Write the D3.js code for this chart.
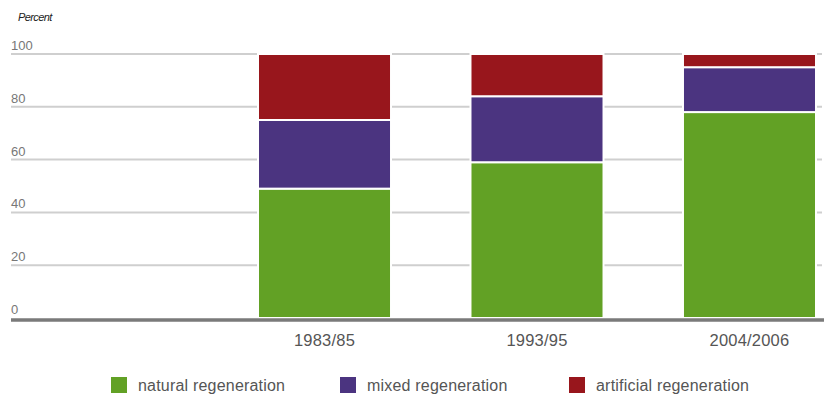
<!DOCTYPE html>
<html>
<head>
<meta charset="utf-8">
<script src="https://cdn.jsdelivr.net/npm/d3@7"></script>
<style>
	body { margin: 0; background: #fff; }
	text { font-family: "Liberation Sans", Arial, sans-serif; }
</style>
</head>
<body>
<svg class="chart"></svg>
<script>
// data
var periods = ["1983/85", "1993/95", "2004/2006"],
	natural = [49, 59, 78],
	mixed = [26, 25, 17],
	artificial = [25, 16, 5],
	seriesNames = ["natural regeneration", "mixed regeneration", "artificial regeneration"],
	seriesColors = ["#62a125", "#4b3480", "#98161c"],
	yTicks = [0, 20, 40, 60, 80, 100];

var svgWidth = 824,
	svgHeight = 396;

var chart = d3.select( ".chart" )
	.attr( "width", svgWidth )
	.attr( "height", svgHeight );

var gridLeft = 11,
	gridRight = 822;

var x = d3.scaleBand()
	.domain( periods )
	.range( [249.5, 824.5] )
	.paddingInner( 0.374 )
	.paddingOuter( 0.04 );

var y = d3.scaleLinear()
	.domain( [0, 100] )
	.range( [318, 54] );

// build stacked rows
var rows = periods.map( function(p, i) {
	return { period: p, natural: natural[i], mixed: mixed[i], artificial: artificial[i] };
} );
var stack = d3.stack().keys( ["natural", "mixed", "artificial"] )( rows );

// grid lines + labels
var grid = chart.append( "g" );
grid.selectAll( "line" )
	.data( yTicks.filter( function(d) { return d > 0; } ) )
	.enter()
	.append( "line" )
	.attr( "x1", gridLeft )
	.attr( "x2", gridRight )
	.attr( "y1", function(d) { return y(d); } )
	.attr( "y2", function(d) { return y(d); } )
	.attr( "stroke", "#cfcfcf" )
	.attr( "stroke-width", 2 );

grid.selectAll( "text" )
	.data( yTicks )
	.enter()
	.append( "text" )
	.attr( "x", gridLeft )
	.attr( "y", function(d) { return y(d) - 4; } )
	.attr( "font-size", 13 )
	.attr( "fill", "#777" )
	.text( function(d) { return d; } );

chart.append( "text" )
	.attr( "x", 18 )
	.attr( "y", 21 )
	.attr( "font-size", 11 )
	.attr( "font-style", "italic" )
	.attr( "fill", "#222" )
	.attr( "letter-spacing", -0.6 )
	.text( "Percent" );

// bars
chart.selectAll( ".layer" )
	.data( stack )
	.enter()
	.append( "g" )
	.classed( "layer", true )
	.attr( "fill", function(d, i) { return seriesColors[i]; } )
	.selectAll( "rect" )
	.data( function(d) { return d; } )
	.enter()
	.append( "rect" )
	.attr( "x", function(d) { return x( d.data.period ); } )
	.attr( "y", function(d) { return y( d[1] ); } )
	.attr( "width", x.bandwidth() )
	.attr( "height", function(d) { return y( d[0] ) - y( d[1] ); } )
	.attr( "stroke", "#fff" )
	.attr( "stroke-width", 2 );

// baseline
chart.append( "line" )
	.attr( "x1", gridLeft )
	.attr( "x2", svgWidth )
	.attr( "y1", y(0) + 2 )
	.attr( "y2", y(0) + 2 )
	.attr( "stroke", "#7a7a7a" )
	.attr( "stroke-width", 3.5 );

// x labels
chart.append( "g" )
	.selectAll( "text" )
	.data( periods )
	.enter()
	.append( "text" )
	.attr( "x", function(d) { return x(d) + x.bandwidth() / 2; } )
	.attr( "y", 346 )
	.attr( "text-anchor", "middle" )
	.attr( "font-size", 16.5 )
	.attr( "fill", "#555" )
	.attr( "letter-spacing", 0.2 )
	.text( function(d) { return d; } );

// legend
var legendX = [111, 340, 569];
var legend = chart.append( "g" )
	.selectAll( "g" )
	.data( seriesNames )
	.enter()
	.append( "g" )
	.attr( "transform", function(d, i) { return "translate(" + legendX[i] + ",377)"; } );

legend.append( "rect" )
	.attr( "width", 16 )
	.attr( "height", 16 )
	.attr( "fill", function(d, i) { return seriesColors[i]; } );

legend.append( "text" )
	.attr( "x", 27 )
	.attr( "y", 13.5 )
	.attr( "font-size", 16 )
	.attr( "fill", "#555" )
	.attr( "letter-spacing", 0.2 )
	.text( function(d) { return d; } );
</script>
</body>
</html>
